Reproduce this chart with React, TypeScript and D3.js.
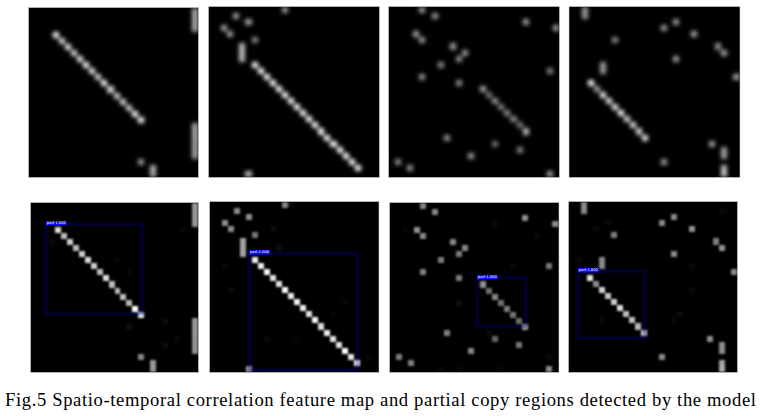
import React from "react";
import * as d3 from "d3";

// ---- data: [column, row, grey level] in a 28 x 28 correlation map ----
type Cell = [number, number, number];

const gridSize = 28;
const caption =
  "Fig.5 Spatio-temporal correlation feature map and partial copy regions detected by the model";
const labelText = "part 1.000";

// diagonal runs: start column, start row, grey levels
const diag1 = { col: 4, row: 4, values: [205, 175, 190, 175, 190, 205, 190, 175, 205, 175, 170, 175, 170, 245, 225] };
const diag2 = { col: 7, row: 9, values: [225, 220, 230, 210, 210, 235, 220, 225, 220, 210, 230, 205, 220, 210, 210, 240, 215, 225] };
const diag3 = { col: 15, row: 13, values: [135, 100, 125, 105, 115, 110, 100, 150] };
const diag4 = { col: 3, row: 12, values: [215, 130, 195, 185, 190, 205, 175, 180, 170, 190] };

const spots1: Cell[] = [
  [27, 0, 140], [27, 1, 140], [27, 2, 140], [27, 3, 140],
  [27, 19, 140], [27, 20, 140], [27, 21, 140], [27, 22, 135], [27, 23, 135], [27, 24, 135],
  [18, 25, 125], [20, 26, 140], [20, 27, 140],
];
const spots2: Cell[] = [
  [12, 0, 125], [4, 1, 130], [6, 2, 130], [2, 3, 130], [3, 4, 130], [7, 5, 110],
  [5, 6, 150], [5, 7, 150], [5, 8, 150], [6, 27, 150],
];
const spots3: Cell[] = [
  [5, 0, 125], [7, 1, 125], [22, 2, 130], [27, 3, 130], [4, 4, 135], [5, 5, 125],
  [10, 6, 125], [12, 7, 125], [11, 8, 115], [8, 9, 115], [26, 10, 110], [5, 11, 120],
  [11, 12, 115], [9, 21, 120], [17, 22, 95], [21, 23, 110], [13, 24, 125], [1, 25, 115],
  [3, 26, 120], [26, 27, 130],
];
const spots4: Cell[] = [
  [2, 0, 125], [2, 1, 125], [17, 2, 125], [15, 3, 125], [20, 4, 135], [7, 5, 115],
  [24, 6, 120], [25, 7, 135], [17, 8, 130], [5, 9, 125], [5, 10, 125], [27, 11, 130],
  [23, 22, 130], [25, 23, 130], [25, 24, 130], [15, 25, 125], [25, 26, 150], [25, 27, 160],
];

// faint background activations (only visible on the sharper lower row)
const faint1: Cell[] = [[16, 20, 14], [22, 19, 11], [22, 23, 11], [24, 22, 9], [3, 6, 8], [25, 4, 8], [14, 9, 8], [16, 11, 7]];
const faint2: Cell[] = [[10, 4, 11], [11, 7, 14], [2, 10, 9], [3, 14, 10], [13, 0, 8], [9, 22, 8], [14, 22, 7], [22, 16, 8], [20, 18, 7], [26, 25, 8]];
const faint3: Cell[] = [[11, 16, 14], [17, 3, 9], [24, 5, 8], [2, 4, 7], [20, 10, 9], [16, 21, 10], [26, 25, 8], [8, 27, 7], [11, 27, 8], [18, 27, 7]];
const faint4: Cell[] = [[5, 19, 10], [18, 18, 11], [17, 19, 9], [20, 10, 9], [25, 1, 8], [6, 3, 7], [4, 4, 8], [1, 9, 8], [20, 14, 8]];

// detection boxes: left, top, right, bottom, in cell units
const box1 = [2.5, 3.5, 18.66, 18.4];
const box2 = [6.53, 8.45, 24.47, 27.67];
const box3 = [14.46, 12.43, 22.55, 20.48];
const box4 = [1.5, 11.4, 12.6, 22.4];

const diagonals = [diag1, diag2, diag3, diag4];
const spots = [spots1, spots2, spots3, spots4];
const faints = [faint1, faint2, faint3, faint4];
const boxes = [box1, box2, box3, box4];

// ---- layout ----
const topFrames = [
  [29, 198, 8, 177],
  [209, 379, 7, 177],
  [389, 559, 7, 177],
  [569.5, 739.5, 7, 177],
];
const bottomFrames = [
  [31, 198, 203, 372],
  [210, 378.5, 202, 372],
  [390, 558.5, 203, 372],
  [569, 737, 202, 372],
];

const grey = (v: number) => d3.rgb(v, v, v).formatHex();

function cellsFor(i: number, withFaint: boolean): Cell[] {
  const d = diagonals[i];
  const run: Cell[] = d.values.map((v, k) => [d.col + k, d.row + k, v]);
  return [...(withFaint ? faints[i] : []), ...spots[i], ...run];
}

function Panel({ frame, index, sharp }: { frame: number[]; index: number; sharp: boolean }) {
  const [x0, x1, y0, y1] = frame;
  const x = d3.scaleLinear().domain([0, gridSize]).range([x0, x1]);
  const y = d3.scaleLinear().domain([0, gridSize]).range([y0, y1]);
  const clip = `clip-${sharp ? "b" : "t"}-${index}`;
  const box = boxes[index];
  return (
    <g>
      <clipPath id={clip}>
        <rect x={x0} y={y0} width={x1 - x0} height={y1 - y0} />
      </clipPath>
      <rect x={x0 - 0.5} y={y0 - 0.5} width={x1 - x0 + 1} height={y1 - y0 + 1} fill="#000" stroke="#cfcfcf" strokeWidth={0.6} />
      <g clipPath={`url(#${clip})`}>
        <g filter={sharp ? "url(#soft)" : "url(#smooth)"}>
          {cellsFor(index, sharp).map(([c, r, v], k) => (
            <rect
              key={k}
              x={x(c)}
              y={y(r)}
              width={x(c + 1) - x(c)}
              height={y(r + 1) - y(r)}
              fill={grey(v)}
              shapeRendering="crispEdges"
            />
          ))}
          {sharp && (
            <rect
              x={x(box[0])}
              y={y(box[1])}
              width={x(box[2]) - x(box[0])}
              height={y(box[3]) - y(box[1])}
              fill="none"
              stroke="#00009e"
              strokeWidth={1}
            />
          )}
        </g>
        {sharp && (
          <g filter="url(#tiny)">
            <rect x={x(box[0])} y={y(box[1]) - 3.2} width={20.5} height={4.4} fill="#1212ff" />
            <text
              x={x(box[0]) + 1}
              y={y(box[1]) + 0.1}
              fontSize={3.6}
              fontFamily="DejaVu Sans, sans-serif"
              fill="#fff"
            >
              {labelText}
            </text>
          </g>
        )}
      </g>
    </g>
  );
}

export default function App() {
  return (
    <svg
      width={767}
      height={416}
      viewBox="0 0 767 416"
      style={{ position: "absolute", left: 0, top: 0, background: "#fff", display: "block" }}
    >
      <defs>
        <filter id="smooth" x="-5%" y="-5%" width="110%" height="110%" colorInterpolationFilters="sRGB">
          <feGaussianBlur stdDeviation={2} />
          <feComponentTransfer>
            <feFuncR type="linear" slope={1.25} />
            <feFuncG type="linear" slope={1.25} />
            <feFuncB type="linear" slope={1.25} />
          </feComponentTransfer>
        </filter>
        <filter id="soft" x="-5%" y="-5%" width="110%" height="110%" colorInterpolationFilters="sRGB">
          <feGaussianBlur stdDeviation={0.8} />
          <feComponentTransfer>
            <feFuncR type="linear" slope={1.08} />
            <feFuncG type="linear" slope={1.08} />
            <feFuncB type="linear" slope={1.08} />
          </feComponentTransfer>
        </filter>
        <filter id="tiny" x="-5%" y="-20%" width="110%" height="140%" colorInterpolationFilters="sRGB">
          <feGaussianBlur stdDeviation={0.25} />
        </filter>
      </defs>
      {topFrames.map((f, i) => (
        <Panel key={`t${i}`} frame={f} index={i} sharp={false} />
      ))}
      {bottomFrames.map((f, i) => (
        <Panel key={`b${i}`} frame={f} index={i} sharp={true} />
      ))}
      <text
        x={5}
        y={406}
        fontFamily="'Liberation Serif', 'Times New Roman', serif"
        fontSize={18.6}
        fill="#000"
        textLength={751}
        lengthAdjust="spacing"
      >
        {caption}
      </text>
    </svg>
  );
}
